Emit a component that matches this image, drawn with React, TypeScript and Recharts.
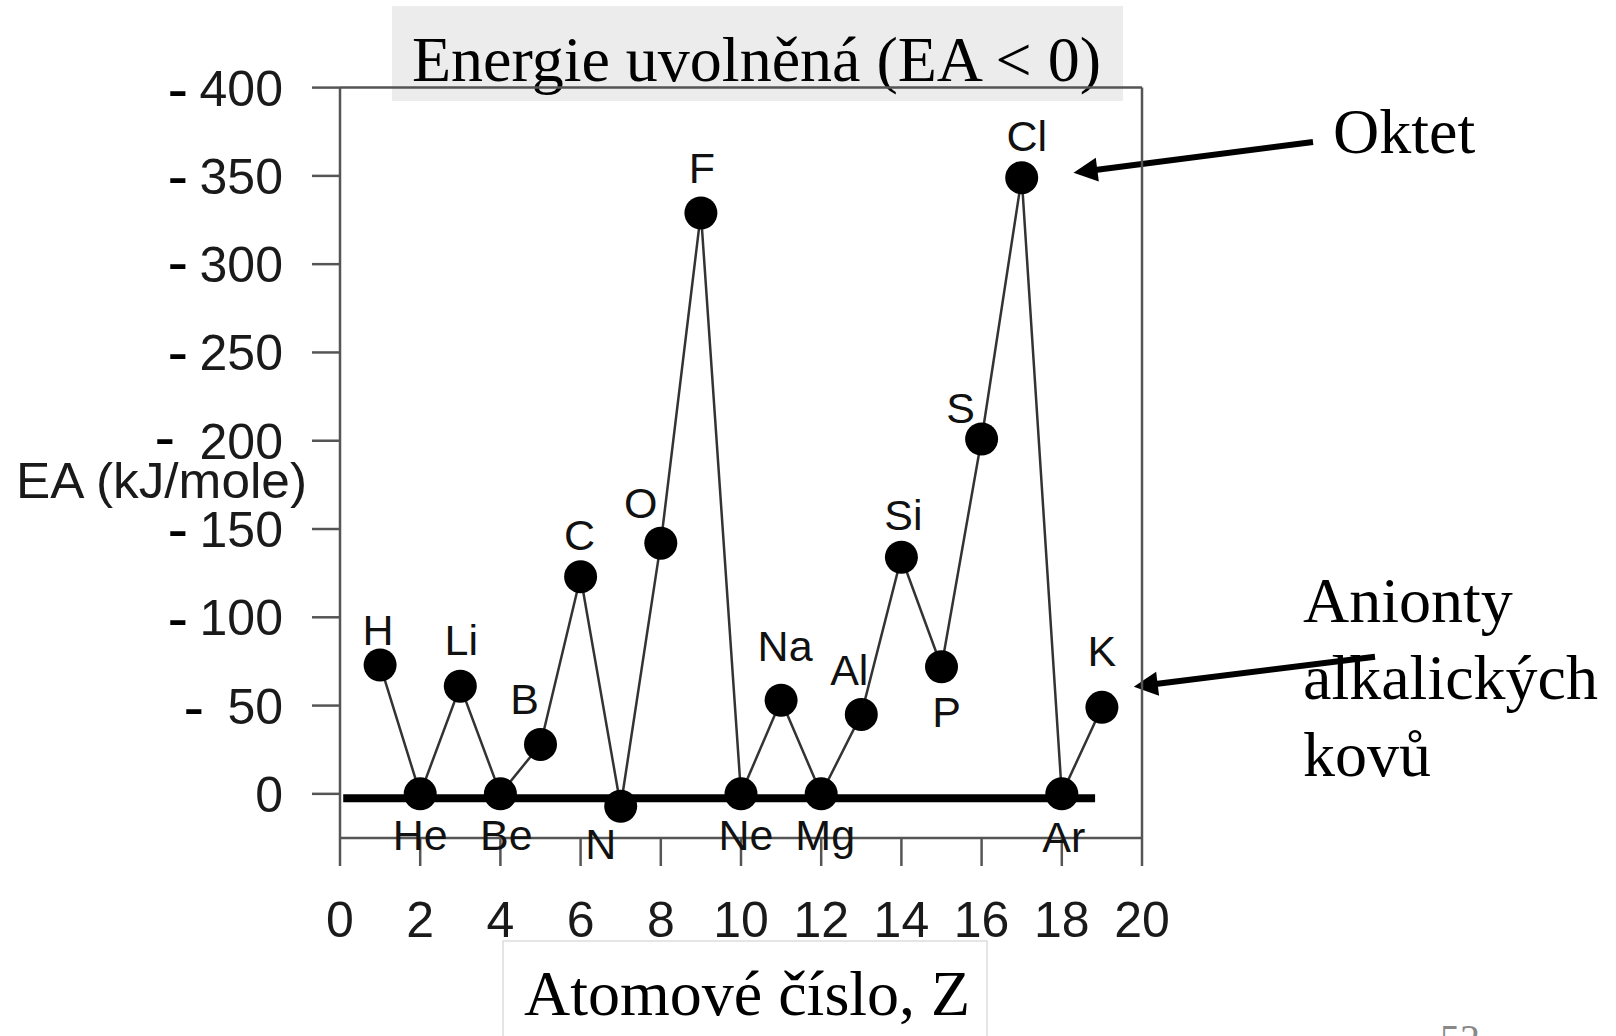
import React from "react";
import {
  ComposedChart,
  Line,
  XAxis,
  YAxis,
  ReferenceLine,
  LabelList,
  Customized,
} from "recharts";

// ---- data ----
const atomicNumbers = [1, 2, 3, 4, 5, 6, 7, 8, 9, 10, 11, 12, 13, 14, 15, 16, 17, 18, 19];
const symbols = ["H", "He", "Li", "Be", "B", "C", "N", "O", "F", "Ne", "Na", "Mg", "Al", "Si", "P", "S", "Cl", "Ar", "K"];
const eaValues = [73, 0, 61, 0, 28, 123, -7, 142, 329, 0, 53, 0, 45, 134, 72, 201, 349, 0, 49];
const xTicks = [0, 2, 4, 6, 8, 10, 12, 14, 16, 18, 20];
const yTicks = [0, 50, 100, 150, 200, 250, 300, 350, 400];
const yTickPrefix = ["", "-", "-", "-", "-", "-", "-", "-", "-"];
const baselineLevel = -2.5;
const baselineFrom = 0.08;
const baselineTo = 18.83;

const titleText = "Energie uvolněná (EA < 0)";
const xAxisTitle = "Atomové číslo, Z";
const yAxisTitle = "EA (kJ/mole)";
const noteOctet = "Oktet";
const noteAnions = ["Anionty", "alkalických", "kovů"];
const slideNumber = "52";

const data = atomicNumbers.map((z, i) => ({ z, symbol: symbols[i], ea: eaValues[i] }));

// ---- styling ----
const SANS = "'Liberation Sans', Arial, Helvetica, sans-serif";
const SERIF = "'Liberation Serif', 'Times New Roman', Times, serif";
const AXIS = "#555";

// label offsets (dx, baseline dy) relative to each point
const labelOffset: Record<string, [number, number]> = {
  H: [-2, -20], He: [0, 56], Li: [1, -31], Be: [6, 56], B: [-16, -30], C: [-1, -27],
  N: [-20, 53], O: [-20, -25], F: [1, -30], Ne: [5, 56], Na: [4, -39], Mg: [4, 56],
  Al: [-12, -29], Si: [2, -27], P: [5, 60], S: [-21, -16], Cl: [5, -27], Ar: [2, 58], K: [0, -41],
};

// dash position (left x, dy) per y tick value
const dashPos: Record<number, [number, number]> = {
  400: [170, 5], 350: [170, 4], 300: [170, 2], 250: [170, 4], 200: [157, 0],
  150: [170, 4], 100: [170, 5], 50: [186, 5],
};

const YTick = (props: any) => {
  const { x, y, payload } = props;
  const v = payload.value;
  const idx = yTicks.indexOf(v);
  const prefix = idx >= 0 ? yTickPrefix[idx] : "";
  const dp = dashPos[v];
  return (
    <g>
      <text x={x} y={y + 18} textAnchor="end" fontFamily={SANS} fontSize={50} fill="#1a1a1a">
        {String(v)}
      </text>
      {prefix && dp ? (
        <text x={dp[0] - 2.5} y={y + dp[1] + 17} fontFamily={SANS} fontSize={62} fill="#000">
          {prefix}
        </text>
      ) : null}
    </g>
  );
};

const XTick = (props: any) => {
  const { x, y, payload } = props;
  return (
    <text x={x} y={y + 35} textAnchor="middle" fontFamily={SANS} fontSize={50} fill="#1a1a1a">
      {String(payload.value)}
    </text>
  );
};

const ElementLabel = (props: any) => {
  const { x, y, value } = props;
  const off = labelOffset[value] || [0, -25];
  return (
    <text x={x + off[0]} y={y + off[1]} textAnchor="middle" fontFamily={SANS} fontSize={43} fill="#111">
      {value}
    </text>
  );
};

const Dot = (props: any) => {
  const { cx, cy, index } = props;
  return <circle key={`d-${index}`} cx={cx} cy={cy} r={16.5} fill="#000" />;
};

const Arrow = ({ x1, y1, x2, y2 }: { x1: number; y1: number; x2: number; y2: number }) => {
  const dx = x2 - x1;
  const dy = y2 - y1;
  const len = Math.sqrt(dx * dx + dy * dy);
  const ux = dx / len;
  const uy = dy / len;
  const hl = 24;
  const hw = 12;
  const bx = x2 - ux * hl;
  const by = y2 - uy * hl;
  const px = -uy * hw;
  const py = ux * hw;
  return (
    <g>
      <line x1={x1} y1={y1} x2={bx + ux * 2} y2={by + uy * 2} stroke="#000" strokeWidth={6} />
      <polygon points={`${x2},${y2} ${bx + px},${by + py} ${bx - px},${by - py}`} fill="#000" />
    </g>
  );
};

const Annotations = () => (
  <g>
    {/* title box */}
    <rect x={392} y={6} width={731} height={95} fill="#ececec" />
    <text x={412} y={80.5} fontFamily={SERIF} fontSize={64} fill="#000">{titleText}</text>
    {/* y axis title */}
    <text x={16} y={498} fontFamily={SANS} fontSize={50} fill="#1a1a1a" textLength={291} lengthAdjust="spacingAndGlyphs">{yAxisTitle}</text>
    {/* x axis title */}
    <rect x={503} y={941} width={484} height={110} fill="#fff" stroke="#ddd" strokeWidth={1.5} />
    <text x={524} y={1015} fontFamily={SERIF} fontSize={64} fill="#000">{xAxisTitle}</text>
    {/* notes */}
    <text x={1333} y={152.5} fontFamily={SERIF} fontSize={64} fill="#000">{noteOctet}</text>
    <Arrow x1={1313} y1={142} x2={1073.5} y2={172.7} />
    {noteAnions.map((t, i) => (
      <text key={t} x={1303} y={622 + i * 77} fontFamily={SERIF} fontSize={64} fill="#000">{t}</text>
    ))}
    <Arrow x1={1375} y1={656.7} x2={1133.8} y2={686.7} />
    <text x={1440} y={1052} fontFamily={SERIF} fontSize={40} fill="#888">{slideNumber}</text>
  </g>
);

export default function App() {
  return (
    <div style={{ position: "absolute", left: 0, top: 0, width: 1616, height: 1036, background: "#fff", overflow: "hidden" }}>
      <ComposedChart
        width={1616}
        height={1036}
        data={data}
        margin={{ top: 87.6, right: 474, bottom: 98, left: 40 }}
      >
        <XAxis
          dataKey="z"
          type="number"
          domain={[0, 20]}
          ticks={xTicks}
          allowDataOverflow
          height={100}
          tickSize={28}
          tickMargin={36}
          axisLine={{ stroke: AXIS, strokeWidth: 2.5 }}
          tickLine={{ stroke: AXIS, strokeWidth: 2.5 }}
          tick={<XTick />}
          interval={0}
        />
        <YAxis
          type="number"
          domain={[-25, 400]}
          ticks={yTicks}
          allowDataOverflow
          width={300}
          tickSize={28}
          tickMargin={29}
          axisLine={{ stroke: AXIS, strokeWidth: 2.5 }}
          tickLine={{ stroke: AXIS, strokeWidth: 2.5 }}
          tick={<YTick />}
          interval={0}
        />
        <ReferenceLine y={400} stroke={AXIS} strokeWidth={2.5} />
        <ReferenceLine x={20} stroke={AXIS} strokeWidth={2.5} />
        <ReferenceLine
          segment={[{ x: baselineFrom, y: baselineLevel }, { x: baselineTo, y: baselineLevel }]}
          stroke="#000"
          strokeWidth={8}
        />
        <Line
          dataKey="ea"
          type="linear"
          stroke="#333"
          strokeWidth={2.5}
          dot={Dot}
          activeDot={false}
          isAnimationActive={false}
        >
          <LabelList dataKey="symbol" content={ElementLabel} />
        </Line>
        <Customized component={<Annotations />} />
      </ComposedChart>
    </div>
  );
}
